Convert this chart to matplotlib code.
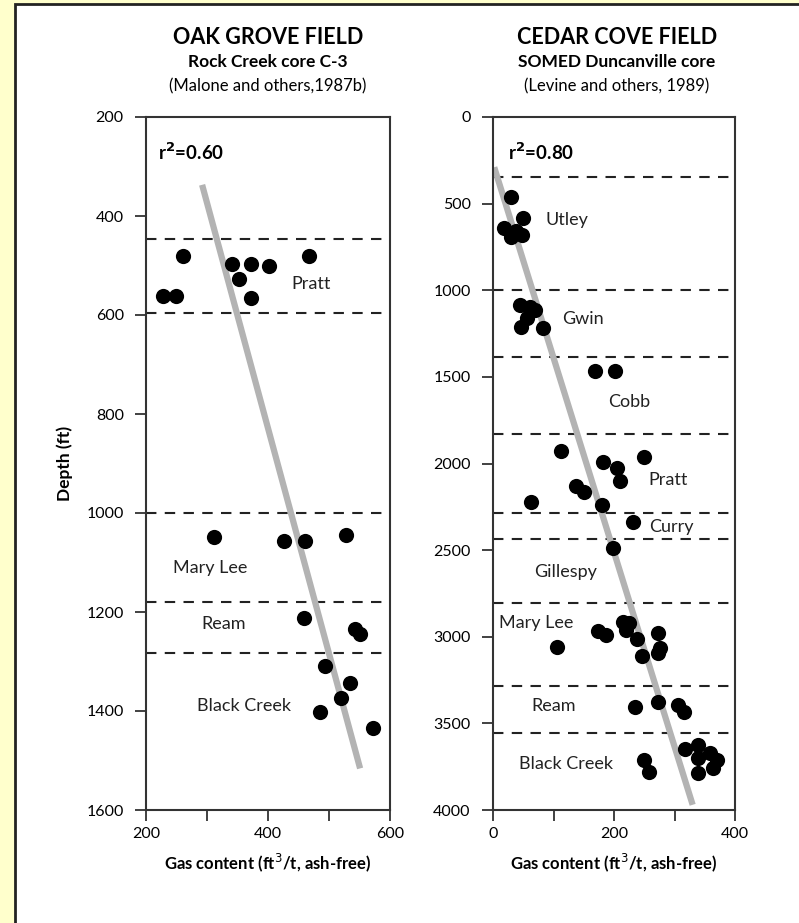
import matplotlib
matplotlib.use("Agg")
import matplotlib.pyplot as plt
from matplotlib.patches import Rectangle

plt.rcParams['font.family'] = ['Lato', 'DejaVu Sans']

# ---------------- data ----------------
oak_gas = [260, 228, 249, 341, 372, 401, 352, 372, 468,
           312, 426, 460, 528, 459, 543, 550, 493, 534, 519, 486, 572]
oak_depth = [480, 562, 562, 496, 496, 501, 528, 566, 480,
             1049, 1056, 1056, 1044, 1213, 1235, 1244, 1310, 1343, 1374, 1403, 1435]
oak_fit_gas = [292, 551]
oak_fit_depth = [337, 1516]
oak_bounds = [447, 595, 1000, 1180, 1282]
oak_units = ["Pratt", "Mary Lee", "Ream", "Black Creek"]
oak_unit_gas = [438, 305, 327, 360]
oak_unit_depth = [537, 1111, 1224, 1390]

cedar_gas = [29, 50, 18, 29, 48, 38,
             45, 61, 69, 47, 56, 82,
             169, 202,
             112, 182, 205, 210, 250, 138, 150, 62, 180, 231, 198,
             215, 224, 220, 174, 187, 238, 273, 276, 273, 246, 105,
             235, 273, 306, 316,
             318, 339, 359, 371, 339, 339, 364, 250, 258]
cedar_depth = [460, 585, 643, 691, 681, 660,
               1085, 1095, 1114, 1210, 1162, 1220,
               1464, 1464,
               1928, 1993, 2024, 2101, 1961, 2130, 2163, 2220, 2240, 2336, 2490,
               2913, 2919, 2961, 2965, 2990, 3015, 2980, 3067, 3096, 3111, 3061,
               3403, 3375, 3394, 3432,
               3650, 3625, 3673, 3711, 3700, 3788, 3759, 3711, 3778]
cedar_fit_gas = [2, 330]
cedar_fit_depth = [290, 3970]
cedar_bounds = [348, 1000, 1387, 1831, 2284, 2438, 2807, 3284, 3554]
cedar_units = ["Utley", "Gwin", "Cobb", "Pratt", "Curry", "Gillespy",
               "Mary Lee", "Ream", "Black Creek"]
cedar_unit_gas = [86, 114, 190, 256, 258, 68, 10, 63, 43]
cedar_unit_depth = [595, 1166, 1645, 2095, 2366, 2626, 2920, 3400, 3735]

fig = plt.figure(figsize=(7.99, 9.23), dpi=100)
fig.patch.set_facecolor('#FFFFCC')
bg = Rectangle((15 / 799, -0.01), 1, 1.01 - 4 / 923, transform=fig.transFigure,
               facecolor='white', edgecolor='#222222', linewidth=2, zorder=-10)
fig.add_artist(bg)

ax1 = fig.add_axes([146 / 799, 1 - 810 / 923, 244 / 799, 693 / 923])
ax2 = fig.add_axes([493 / 799, 1 - 810 / 923, 242 / 799, 693 / 923])

fit_color = '#b3b3b3'
for ax in (ax1, ax2):
    ax.set_facecolor('white')
    for s in ax.spines.values():
        s.set_color('#333333')
        s.set_linewidth(1.5)
    ax.tick_params(direction='out', length=8, width=1.3, color='#333333',
                   labelsize=11.5, pad=4)

# left panel
ax1.plot(oak_fit_gas, oak_fit_depth, color=fit_color, lw=4.5, solid_capstyle='butt', zorder=2)
ax1.scatter(oak_gas, oak_depth, s=120, color='black', zorder=3, linewidths=0)
for b in oak_bounds:
    ax1.axhline(b, color='#222222', lw=1.5, ls=(0, (5, 4)), zorder=1)
for t, x, y in zip(oak_units, oak_unit_gas, oak_unit_depth):
    ax1.text(x, y, t, fontsize=13, ha='left' if t == 'Pratt' else 'center',
             va='center', color='#222222')
ax1.set_xlim(200, 600)
ax1.set_ylim(1600, 200)
ax1.set_xticks([200, 300, 400, 500, 600])
ax1.set_xticklabels(['200', '', '400', '', '600'])
ax1.set_yticks([200, 400, 600, 800, 1000, 1200, 1400, 1600])
ax1.tick_params(axis='y', pad=8)
ax1.text(0.05, 0.965, r'r$^{\mathbf{2}}$=0.60', transform=ax1.transAxes, fontsize=13.5,
         fontweight='bold', va='top', ha='left')
ax1.set_ylabel('Depth (ft)', fontsize=12.5, fontweight='bold', labelpad=10)
ax1.set_xlabel(r'Gas content (ft$^{3}$/t, ash-free)', fontsize=12,
               fontweight='bold', labelpad=8)

# right panel
ax2.plot(cedar_fit_gas, cedar_fit_depth, color=fit_color, lw=4.5, solid_capstyle='butt', zorder=2)
ax2.scatter(cedar_gas, cedar_depth, s=120, color='black', zorder=3, linewidths=0)
for b in cedar_bounds:
    ax2.axhline(b, color='#222222', lw=1.5, ls=(0, (5, 4)), zorder=1)
for t, x, y in zip(cedar_units, cedar_unit_gas, cedar_unit_depth):
    ax2.text(x, y, t, fontsize=13, ha='left', va='center', color='#222222')
ax2.set_xlim(0, 400)
ax2.set_ylim(4000, 0)
ax2.set_xticks([0, 100, 200, 300, 400])
ax2.set_xticklabels(['0', '', '200', '', '400'])
ax2.set_yticks(range(0, 4001, 500))
ax2.tick_params(axis='y', pad=8)
ax2.text(0.06, 0.965, r'r$^{\mathbf{2}}$=0.80', transform=ax2.transAxes, fontsize=13.5,
         fontweight='bold', va='top', ha='left')
ax2.set_xlabel(r'Gas content (ft$^{3}$/t, ash-free)', fontsize=12,
               fontweight='bold', labelpad=8)

# titles
for cx, lines in ((268 / 799, ("OAK GROVE FIELD", "Rock Creek core C-3", "(Malone and others,1987b)")),
                  (617 / 799, ("CEDAR COVE FIELD", "SOMED Duncanville core", "(Levine and others, 1989)"))):
    fig.text(cx, 1 - 38 / 923, lines[0], fontsize=15.5, fontweight='bold', ha='center', va='center')
    fig.text(cx, 1 - 62 / 923, lines[1], fontsize=12.5, fontweight='bold', ha='center', va='center')
    fig.text(cx, 1 - 86 / 923, lines[2], fontsize=12, ha='center', va='center')

fig.savefig('out.png', dpi=100, facecolor=fig.get_facecolor())
